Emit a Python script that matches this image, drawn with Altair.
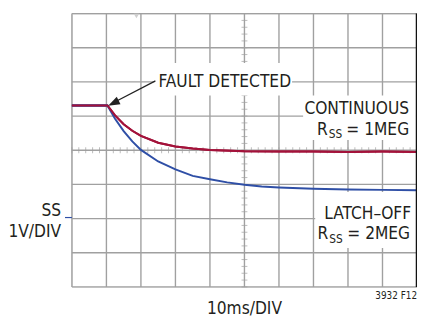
import altair as alt
import pandas as pd

# ---- data (x in divisions of 10 ms, y in volts, 1 V/DIV) ----
red_x = [0.0, 0.5, 1.03, 1.25, 1.5, 1.75, 2.0, 2.5, 3.0, 3.5, 4.0, 5.0, 6.0, 7.0, 8.0, 9.0, 10.0]
red_y = [3.31, 3.31, 3.31, 3.02, 2.76, 2.57, 2.42, 2.22, 2.11, 2.05, 2.01, 1.97, 1.96, 1.96, 1.95, 1.96, 1.95]

blue_x = [0.0, 0.5, 1.03, 1.25, 1.5, 1.75, 2.0, 2.5, 3.0, 3.5, 4.0, 4.5, 5.0, 5.5, 6.0, 7.0, 8.0, 9.0, 10.0]
blue_y = [3.31, 3.31, 3.31, 2.92, 2.56, 2.26, 2.01, 1.67, 1.44, 1.25, 1.15, 1.06, 0.99, 0.94, 0.91, 0.87, 0.85, 0.84, 0.83]

grid_x = [0, 1, 2, 3, 4, 5, 6, 7, 8, 9, 10]
grid_y = [-2, -1, 0, 1, 2, 3, 4, 5, 6]
minor_x = [i * 0.2 for i in range(51)]
minor_y = [-2 + i * 0.2 for i in range(41)]
center_x = 5
center_y = 2

RED = "#a3123a"
BLUE = "#2f4fa6"
GRID = "#a0a0a0"
FONT = "DejaVu Sans Condensed"

xs = alt.Scale(domain=[0, 10], nice=False, zero=False)
ys = alt.Scale(domain=[-2, 6], nice=False, zero=False)

grid_layer = alt.Chart(pd.DataFrame({"x": grid_x})).mark_rule(
    color=GRID, strokeWidth=1.4
).encode(x=alt.X("x:Q", scale=xs, axis=None))
grid_layer_y = alt.Chart(pd.DataFrame({"y": grid_y})).mark_rule(
    color=GRID, strokeWidth=1.4
).encode(y=alt.Y("y:Q", scale=ys, axis=None))

ticks_h = alt.Chart(pd.DataFrame({"x": minor_x, "y": [center_y] * len(minor_x)})).mark_tick(
    orient="vertical", size=6, thickness=1, color=GRID
).encode(x=alt.X("x:Q", scale=xs, axis=None), y=alt.Y("y:Q", scale=ys, axis=None))
ticks_v = alt.Chart(pd.DataFrame({"y": minor_y, "x": [center_x] * len(minor_y)})).mark_tick(
    orient="horizontal", size=6, thickness=1, color=GRID
).encode(x=alt.X("x:Q", scale=xs, axis=None), y=alt.Y("y:Q", scale=ys, axis=None))

# white label boxes (x, x2, y, y2 in data units)
boxes = pd.DataFrame({
    "x": [2.39, 6.70, 7.05],
    "x2": [6.38, 9.97, 9.97],
    "y": [4.55, 3.60, 0.78],
    "y2": [3.60, 2.30, -0.86],
})
box_layer = alt.Chart(boxes).mark_rect(color="white").encode(
    x=alt.X("x:Q", scale=xs, axis=None), x2="x2:Q",
    y=alt.Y("y:Q", scale=ys, axis=None), y2="y2:Q",
)

curves = pd.DataFrame({
    "x": red_x + blue_x,
    "y": red_y + blue_y,
    "s": ["CONTINUOUS"] * len(red_x) + ["LATCH-OFF"] * len(blue_x),
})
curve_layer = alt.Chart(curves).mark_line(strokeWidth=2).encode(
    x=alt.X("x:Q", scale=xs, axis=None),
    y=alt.Y("y:Q", scale=ys, axis=None),
    color=alt.Color("s:N", scale=alt.Scale(domain=["CONTINUOUS", "LATCH-OFF"], range=[RED, BLUE]), legend=None),
    detail="s:N",
)
red_layer = alt.Chart(pd.DataFrame({"x": red_x, "y": red_y})).mark_line(strokeWidth=2, color=RED).encode(
    x=alt.X("x:Q", scale=xs, axis=None), y=alt.Y("y:Q", scale=ys, axis=None)
)
flat_layer = alt.Chart(pd.DataFrame({"x": blue_x[:3], "y": blue_y[:3]})).mark_line(strokeWidth=2, color=BLUE).encode(
    x=alt.X("x:Q", scale=xs, axis=None), y=alt.Y("y:Q", scale=ys, axis=None)
)

# arrow
arrow_line = alt.Chart(pd.DataFrame({"x": [2.42], "y": [4.03], "x2": [1.2], "y2": [3.39]})).mark_rule(
    color="#222222", strokeWidth=1.2
).encode(x=alt.X("x:Q", scale=xs, axis=None), y=alt.Y("y:Q", scale=ys, axis=None), x2="x2:Q", y2="y2:Q")
arrow_head = alt.Chart(pd.DataFrame({"x": [1.05], "y": [3.30]})).mark_point(
    shape="M0,0 L0.7,2 L-0.7,2 Z", size=144, filled=True, color="#222222", opacity=1, angle=243
).encode(x=alt.X("x:Q", scale=xs, axis=None), y=alt.Y("y:Q", scale=ys, axis=None))

# trigger marker at top
trig = alt.Chart(pd.DataFrame({"x": [1.87], "y": [5.93]})).mark_point(
    shape="triangle-down", size=30, filled=True, color="#cfcfcf", opacity=1
).encode(x=alt.X("x:Q", scale=xs, axis=None), y=alt.Y("y:Q", scale=ys, axis=None))

# ground reference marker of channel
gnd = alt.Chart(pd.DataFrame({"y": [0.03]})).mark_rule(color=BLUE, strokeWidth=1.2).encode(
    x=alt.value(-7), x2=alt.value(0), y=alt.Y("y:Q", scale=ys, axis=None)
)

# right frame edge (plot border at x = 10 div)
right_edge = alt.Chart(pd.DataFrame({"x": [9.985]})).mark_rule(color="#111111", strokeWidth=1.5).encode(
    x=alt.X("x:Q", scale=xs, axis=None)
)

# texts
labels = pd.DataFrame({
    "x": [2.507, 9.772, 9.829, 7.10, 9.772, 7.12, 9.80, 5.0],
    "y": [3.856, 3.07, -0.01, 2.446, 2.446, -0.595, -0.595, -2.79],
    "t": ["FAULT DETECTED", "CONTINUOUS", "LATCH\u2013OFF", "R", "= 1MEG", "R", "= 2MEG", "10ms/DIV"],
    "a": ["left", "right", "right", "left", "right", "left", "right", "center"],
})

def txt(df, align, size=17.5):
    return alt.Chart(df).mark_text(
        align=align, baseline="alphabetic", font=FONT, fontSize=size, color="#231f20"
    ).encode(x=alt.X("x:Q", scale=xs, axis=None), y=alt.Y("y:Q", scale=ys, axis=None), text="t:N")

t_left = txt(labels[labels.a == "left"], "left")
t_right = txt(labels[labels.a == "right"], "right")
t_center = txt(labels[labels.a == "center"], "center")
subs = pd.DataFrame({"x": [7.44, 7.46], "y": [2.36, -0.72], "t": ["SS", "SS"]})
t_sub = txt(subs, "left", 12)
note = pd.DataFrame({"x": [10.0], "y": [-2.35], "t": ["3932 F12"]})
t_note = txt(note, "right", 10)

axis_lbl = pd.DataFrame({"y": [0.078, -0.547], "t": ["SS", "1V/DIV"]})
t_axis = alt.Chart(axis_lbl).mark_text(
    align="right", baseline="alphabetic", font=FONT, fontSize=17.5, color="#231f20"
).encode(x=alt.value(-11), y=alt.Y("y:Q", scale=ys, axis=None), text="t:N")

chart = alt.layer(
    grid_layer, grid_layer_y, ticks_h, ticks_v, box_layer, trig,
    curve_layer, flat_layer, red_layer, arrow_line, arrow_head, gnd, right_edge,
    t_left, t_right, t_center, t_sub, t_note, t_axis,
).properties(
    width=351, height=278,
    autosize=alt.AutoSizeParams(type="none"),
    padding={"left": 65, "top": 3, "right": 0, "bottom": 31},
).configure_view(stroke="#111111", strokeWidth=2).configure(background="white")

chart.save("out.html", embed_options={"renderer": "svg", "actions": False})
